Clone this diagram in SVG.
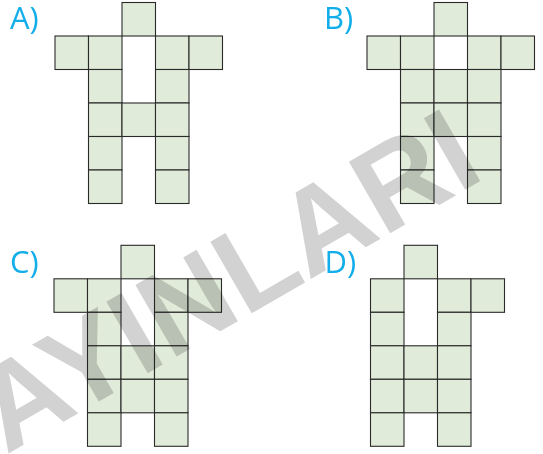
<svg xmlns="http://www.w3.org/2000/svg" width="543" height="454" viewBox="0 0 543 454">
<style>
.c{fill:#e0ebd9;stroke:#2a2a2a;stroke-width:1.1}
.lbl{font-family:"Open Sans","Liberation Sans",sans-serif;font-size:31px;fill:#12aeea}
.wm{font-family:"Liberation Sans",Arial,sans-serif;font-weight:bold;font-size:120px;fill:#d2d2d2;mix-blend-mode:multiply}
</style>
<defs><rect id="sq" class="c" width="33.5" height="33.5"/></defs>
<rect width="543" height="454" fill="#fff"/>
<g id="optionA">
<text class="lbl" x="10" y="29">A)</text>
<g transform="translate(55,2.5)">
<use href="#sq" x="67" y="0"/>
<use href="#sq" x="0" y="33.5"/><use href="#sq" x="33.5" y="33.5"/><use href="#sq" x="100.5" y="33.5"/><use href="#sq" x="134" y="33.5"/>
<use href="#sq" x="33.5" y="67"/><use href="#sq" x="100.5" y="67"/>
<use href="#sq" x="33.5" y="100.5"/><use href="#sq" x="67" y="100.5"/><use href="#sq" x="100.5" y="100.5"/>
<use href="#sq" x="33.5" y="134"/><use href="#sq" x="100.5" y="134"/>
<use href="#sq" x="33.5" y="167.5"/><use href="#sq" x="100.5" y="167.5"/>
</g>
</g>
<g id="optionB">
<text class="lbl" x="324" y="29">B)</text>
<g transform="translate(367,2.5)">
<use href="#sq" x="67" y="0"/>
<use href="#sq" x="0" y="33.5"/><use href="#sq" x="33.5" y="33.5"/><use href="#sq" x="100.5" y="33.5"/><use href="#sq" x="134" y="33.5"/>
<use href="#sq" x="33.5" y="67"/><use href="#sq" x="67" y="67"/><use href="#sq" x="100.5" y="67"/>
<use href="#sq" x="33.5" y="100.5"/><use href="#sq" x="67" y="100.5"/><use href="#sq" x="100.5" y="100.5"/>
<use href="#sq" x="33.5" y="134"/><use href="#sq" x="100.5" y="134"/>
<use href="#sq" x="33.5" y="167.5"/><use href="#sq" x="100.5" y="167.5"/>
</g>
</g>
<g id="optionC">
<text class="lbl" x="10" y="272.5">C)</text>
<g transform="translate(54,245.3)">
<use href="#sq" x="67" y="0"/>
<use href="#sq" x="0" y="33.5"/><use href="#sq" x="33.5" y="33.5"/><use href="#sq" x="100.5" y="33.5"/><use href="#sq" x="134" y="33.5"/>
<use href="#sq" x="33.5" y="67"/><use href="#sq" x="100.5" y="67"/>
<use href="#sq" x="33.5" y="100.5"/><use href="#sq" x="67" y="100.5"/><use href="#sq" x="100.5" y="100.5"/>
<use href="#sq" x="33.5" y="134"/><use href="#sq" x="67" y="134"/><use href="#sq" x="100.5" y="134"/>
<use href="#sq" x="33.5" y="167.5"/><use href="#sq" x="100.5" y="167.5"/>
</g>
</g>
<g id="optionD">
<text class="lbl" x="324.5" y="273">D)</text>
<g transform="translate(370.5,245.3)">
<use href="#sq" x="33.5" y="0"/>
<use href="#sq" x="0" y="33.5"/><use href="#sq" x="67" y="33.5"/><use href="#sq" x="100.5" y="33.5"/>
<use href="#sq" x="0" y="67"/><use href="#sq" x="67" y="67"/>
<use href="#sq" x="0" y="100.5"/><use href="#sq" x="33.5" y="100.5"/><use href="#sq" x="67" y="100.5"/>
<use href="#sq" x="0" y="134"/><use href="#sq" x="33.5" y="134"/><use href="#sq" x="67" y="134"/>
<use href="#sq" x="0" y="167.5"/><use href="#sq" x="67" y="167.5"/>
</g>
</g>
<g id="watermark">
<text class="wm" transform="translate(6,455) rotate(-30)">AYINLARI</text>
</g>
</svg>
